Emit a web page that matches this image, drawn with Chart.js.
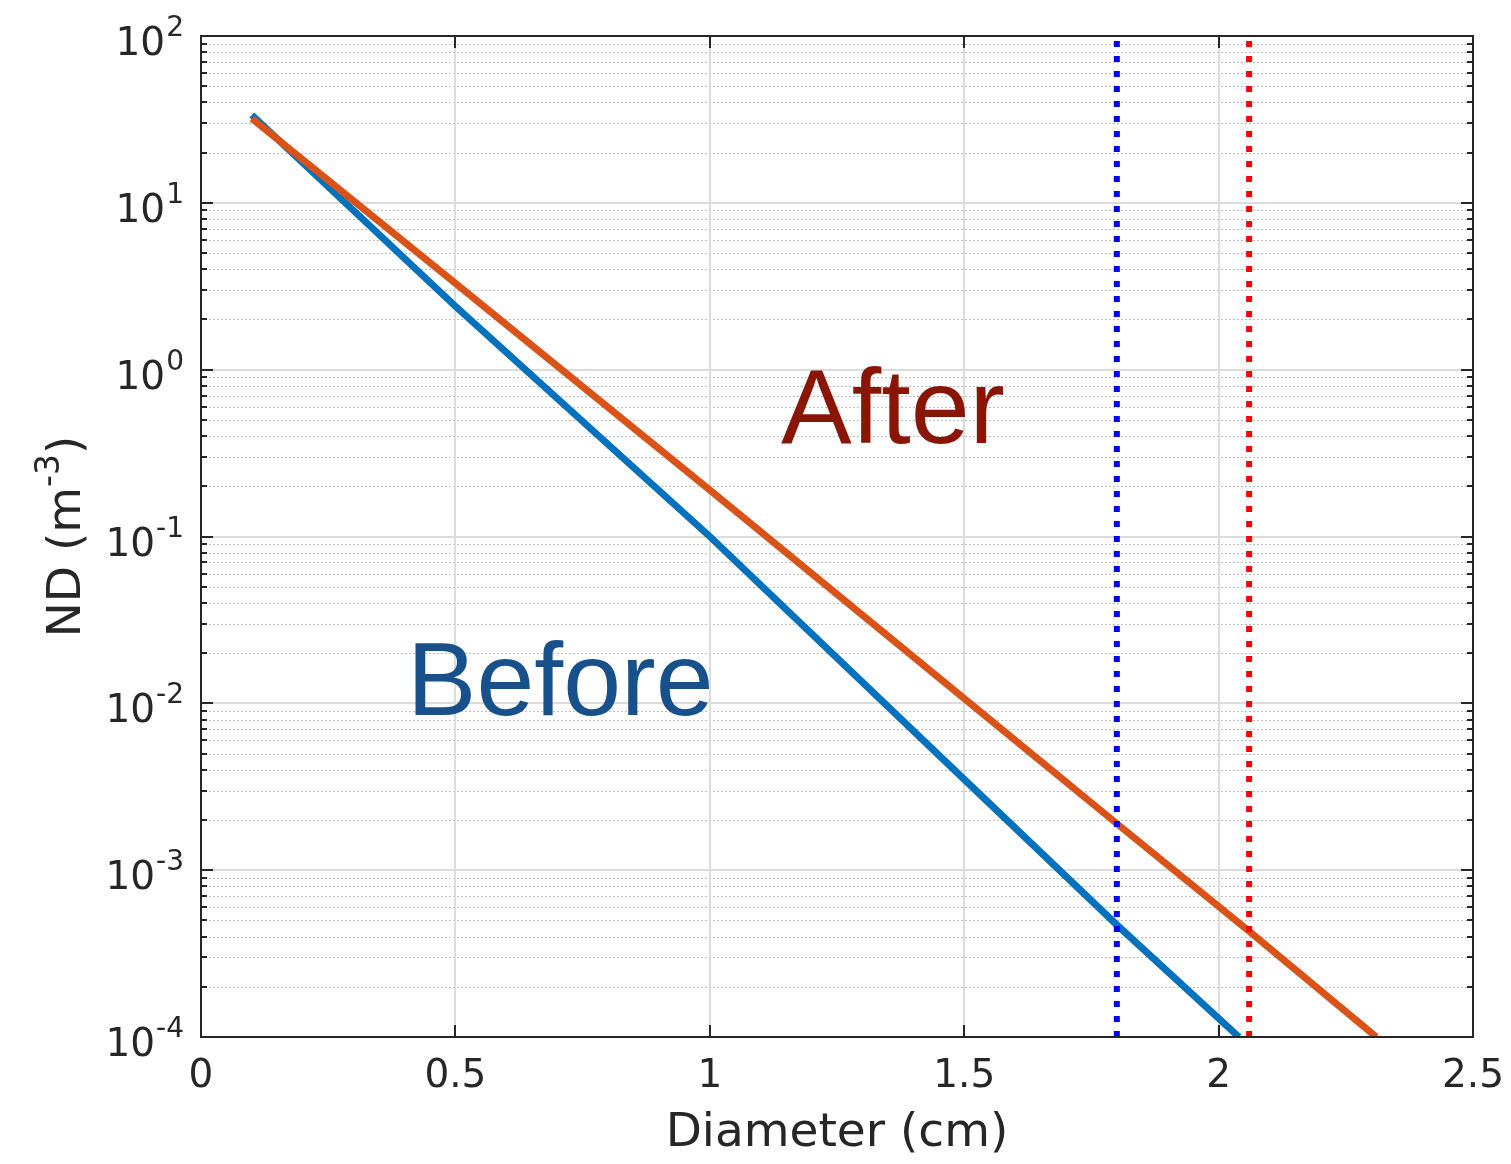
<!DOCTYPE html>
<html><head><meta charset="utf-8">
<script src="https://cdn.jsdelivr.net/npm/chart.js@4.4.1/dist/chart.umd.min.js"></script>
<style>html,body{margin:0;padding:0;background:#fff;}</style>
</head><body>
<canvas id="c" width="1511" height="1164"></canvas>
<script>
// ---- data ----
const beforeX = [0.1, 0.5, 1.0, 1.5, 1.8, 2.04];
const beforeY = [33.6, 2.4, 0.1, 3.5e-3, 4.7e-4, 1e-4];
const afterX  = [0.1, 0.5, 1.0, 1.5, 1.8, 2.06, 2.31];
const afterY  = [32, 3.3, 0.19, 0.0107, 1.9e-3, 4.3e-4, 1e-4];
const markerBeforeX = 1.8;
const markerAfterX = 2.06;
const xTicks = [0, 0.5, 1, 1.5, 2, 2.5];
const yTickBase = '10';
const yTickExps = ['-4', '-3', '-2', '-1', '0', '1', '2'];
const xTitle = 'Diameter (cm)';
const yTitleMain = 'ND (m';
const yTitleSup = '-3';
const yTitleEnd = ')';
const noteText = ['After', 'Before'];
const noteX = [1.14, 0.405];
const noteY = [0.363, 8.5e-3];

const FONT = "'DejaVu Sans', sans-serif";
const INK = '#262626';

const framePlugin = {
  id: 'frame',
  beforeDatasetsDraw(chart) {
    const {ctx, chartArea: a, scales: {x, y}} = chart;
    ctx.save();
    ctx.strokeStyle = '#bdbdbd';
    ctx.lineWidth = 1;
    ctx.setLineDash([2, 2]);
    for (let e = -4; e < 2; e++) {
      for (let m = 2; m <= 9; m++) {
        const py = Math.round(y.getPixelForValue(m * Math.pow(10, e))) + 0.5;
        ctx.beginPath(); ctx.moveTo(a.left, py); ctx.lineTo(a.right, py); ctx.stroke();
      }
    }
    ctx.setLineDash([]);
    ctx.strokeStyle = '#dcdcdc';
    ctx.lineWidth = 2;
    yTickExps.forEach(s => {
      const py = Math.round(y.getPixelForValue(Math.pow(10, +s)));
      ctx.beginPath(); ctx.moveTo(a.left, py); ctx.lineTo(a.right, py); ctx.stroke();
    });
    xTicks.forEach(v => {
      const px = Math.round(x.getPixelForValue(v));
      ctx.beginPath(); ctx.moveTo(px, a.top); ctx.lineTo(px, a.bottom); ctx.stroke();
    });
    ctx.restore();
  },
  afterDatasetsDraw(chart) {
    const {ctx, chartArea: a, scales: {x, y}} = chart;
    ctx.save();
    const noteColors = ['#8a1505', '#17508a'];
    ctx.textBaseline = 'alphabetic';
    ctx.textAlign = 'left';
    const noteSizes = [106, 104];
    noteText.forEach((t, i) => {
      ctx.font = noteSizes[i] + "px 'Liberation Sans', Arial, sans-serif";
      ctx.fillStyle = noteColors[i];
      ctx.fillText(t, x.getPixelForValue(noteX[i]), y.getPixelForValue(noteY[i]));
    });
    ctx.strokeStyle = INK;
    ctx.lineWidth = 2;
    ctx.strokeRect(a.left, a.top, a.right - a.left, a.bottom - a.top);
    xTicks.forEach(v => {
      const px = Math.round(x.getPixelForValue(v));
      ctx.beginPath();
      ctx.moveTo(px, a.bottom); ctx.lineTo(px, a.bottom - 12);
      ctx.moveTo(px, a.top); ctx.lineTo(px, a.top + 12);
      ctx.stroke();
    });
    for (let e = -4; e <= 2; e++) {
      for (let m = 1; m <= 9; m++) {
        if (e === 2 && m > 1) break;
        const py = Math.round(y.getPixelForValue(m * Math.pow(10, e)));
        const len = m === 1 ? 12 : 6;
        ctx.beginPath();
        ctx.moveTo(a.left, py); ctx.lineTo(a.left + len, py);
        ctx.moveTo(a.right, py); ctx.lineTo(a.right - len, py);
        ctx.stroke();
      }
    }
    ctx.fillStyle = INK;
    ctx.textAlign = 'right';
    ctx.textBaseline = 'alphabetic';
    const right = a.left - 17;
    yTickExps.forEach(s => {
      const py = y.getPixelForValue(Math.pow(10, +s));
      ctx.font = '28px ' + FONT;
      const w = ctx.measureText(s).width;
      ctx.fillText(s, right, py);
      ctx.font = '39px ' + FONT;
      ctx.fillText(yTickBase, right - w - 1, py + 19);
    });
    ctx.translate(80, (a.top + a.bottom) / 2);
    ctx.rotate(-Math.PI / 2);
    ctx.textAlign = 'left';
    ctx.font = '47px ' + FONT;
    const w1 = ctx.measureText(yTitleMain).width;
    const w3 = ctx.measureText(yTitleEnd).width;
    ctx.font = '33px ' + FONT;
    const w2 = ctx.measureText(yTitleSup).width;
    const total = w1 + w2 + w3;
    let cx = -total / 2;
    ctx.font = '47px ' + FONT;
    ctx.fillText(yTitleMain, cx, 0);
    cx += w1;
    ctx.font = '33px ' + FONT;
    ctx.fillText(yTitleSup, cx, -21);
    cx += w2;
    ctx.font = '47px ' + FONT;
    ctx.fillText(yTitleEnd, cx, 0);
    ctx.restore();
  }
};

const pts = (xs, ys) => xs.map((v, i) => ({x: v, y: ys[i]}));

new Chart(document.getElementById('c'), {
  type: 'line',
  data: {
    datasets: [
      {label: 'After limit', data: [{x: markerAfterX, y: 1e-4}, {x: markerAfterX, y: 100}],
       borderColor: '#ff0000', borderWidth: 6, borderDash: [6, 9], borderCapStyle: 'butt', pointRadius: 0, order: 0},
      {label: 'Before limit', data: [{x: markerBeforeX, y: 1e-4}, {x: markerBeforeX, y: 100}],
       borderColor: '#0000ff', borderWidth: 6, borderDash: [6, 9], borderCapStyle: 'butt', pointRadius: 0, order: 1},
      {label: 'After', data: pts(afterX, afterY), borderColor: '#d95319', borderWidth: 7,
       pointRadius: 0, tension: 0, order: 2},
      {label: 'Before', data: pts(beforeX, beforeY), borderColor: '#0072bd', borderWidth: 7,
       pointRadius: 0, tension: 0, order: 3}
    ]
  },
  options: {
    responsive: false,
    animation: false,
    devicePixelRatio: 1,
    layout: {padding: {top: 36, right: 38, left: 0, bottom: 0}},
    plugins: {legend: {display: false}, tooltip: {enabled: false}},
    scales: {
      x: {
        type: 'linear', min: 0, max: 2.5,
        afterBuildTicks: s => { s.ticks = xTicks.map(v => ({value: v})); },
        ticks: {font: {family: FONT, size: 39}, color: INK, padding: 16, maxRotation: 0,
                autoSkip: false, callback: v => String(v)},
        grid: {display: false, drawTicks: false},
        border: {display: false},
        title: {display: true, text: xTitle, font: {family: FONT, size: 47}, color: INK,
                padding: {top: 0, bottom: 2}},
        afterFit: s => { s.height = 127; s.paddingLeft = 0; s.paddingRight = 0; }
      },
      y: {
        type: 'logarithmic', min: 1e-4, max: 100,
        ticks: {display: false},
        grid: {display: false, drawTicks: false},
        border: {display: false},
        afterFit: s => { s.width = 201; s.paddingTop = 0; s.paddingBottom = 0; }
      }
    }
  },
  plugins: [framePlugin]
});
</script>
</body></html>
